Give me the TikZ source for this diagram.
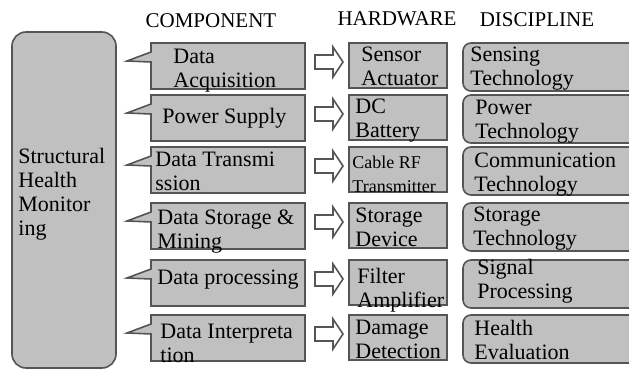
\documentclass[tikz,border=0pt]{standalone}
\usepackage{fontspec}
\setmainfont{Liberation Serif}
\definecolor{boxgray}{RGB}{192,192,192}
\definecolor{edgegray}{RGB}{85,85,85}
\tikzset{
  box/.style={fill=boxgray, draw=edgegray, line width=0.8pt},
  lbl/.style={anchor=north west, inner sep=0pt, align=left, font=\fontsize{11}{12}\selectfont},
  head/.style={anchor=base, inner sep=0pt, font=\fontsize{10.5}{12}\selectfont}
}
\begin{document}
\begin{tikzpicture}[x=0.5pt, y=-0.5pt]
    \clip (0,0) rectangle (629,370);
    \fill[white] (0,0) rectangle (629,370);
    %headings
    \node[head] (hcomp) at (211,27) {COMPONENT};
    \node[head] (hhw) at (397,25) {HARDWARE};
    \node[head] (hdisc) at (537,26) {DISCIPLINE};
    %left block
    \draw[box, rounded corners=7pt] (12,32) rectangle (116,368);
    \node[lbl] (shm) at (18,148) {Structural\\Health\\Monitor\\ing};
    %rows: top / component / x / dy / hardware / size / x / dy / discipline / x / dy
    \foreach \t/\comp/\cx/\cy/\hw/\hs/\hx/\hy/\disc/\dx/\dy [count=\i] in {
        43/{Data\\Acquisition}/173/6/{Sensor\\Actuator}/11/361/4/{Sensing\\Technology}/470/4,
        95/{Power Supply}/162/13/{DC\\Battery}/11/355/4/{Power\\Technology}/475/5,
        147/{Data Transmi\\ssion}/155/5/{Cable RF\\Transmitter}/9/352/9/{Communication\\Technology}/474/6,
        203/{Data Storage \&\\Mining}/157/6/{Storage\\Device}/11/355/5/{Storage\\Technology}/473/4,
        260/{Data processing}/157/10/{Filter\\Amplifier}/11/357/8/{Signal\\Processing}/477/-1,
        315/{Data Interpreta\\tion}/160/9/{Damage\\Detection}/11/355/5/{Health\\Evaluation}/474/5}
    {
        \draw[box] (151,\t) -- (305,\t) -- (305,\t+46) -- (151,\t+46)
            -- (151,\t+19) -- (127,\t+18) -- (151,\t+9) -- cycle;
        \node[lbl] (comp\i) at (\cx,\t+\cy) {\comp};
        \draw[edgegray, line width=0.8pt, fill=white] (315,\t+12) -- (333,\t+12) -- (333,\t+4)
            -- (343,\t+19) -- (333,\t+34) -- (333,\t+26) -- (315,\t+26) -- cycle;
        \draw[box] (349,\t) rectangle (447,\t+45);
        \node[lbl, font=\fontsize{\hs}{12}\selectfont] (hw\i) at (\hx,\t+\hy) {\hw};
        \draw[box, rounded corners=4pt] (650,\t) -- (463,\t) -- (463,\t+48) -- (650,\t+48);
        \node[lbl] (disc\i) at (\dx,\t+\dy) {\disc};
    }
\end{tikzpicture}
\end{document}
